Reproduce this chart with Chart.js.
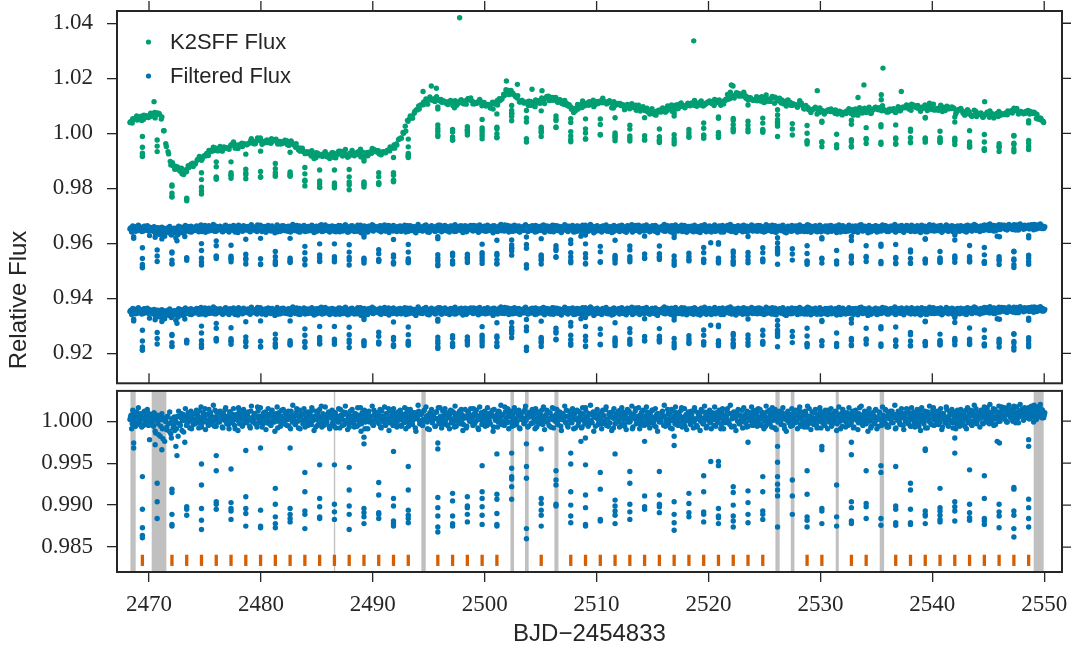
<!DOCTYPE html>
<html><head><meta charset="utf-8">
<script src="https://cdn.jsdelivr.net/npm/chart.js@4.4.1/dist/chart.umd.min.js"></script>
<style>
html,body{margin:0;padding:0;background:#fff;}
#wrap{position:relative;width:1071px;height:652px;overflow:hidden;background:#fff;}
canvas{position:absolute;left:0;}
#c1{top:0;} #c2{top:382px;}
</style></head><body>
<div id="wrap"><canvas id="c2" width="1071" height="270"></canvas><canvas id="c1" width="1071" height="386"></canvas></div>
<script>
// ---------------- DATA ----------------
const xTicks = [2470, 2480, 2490, 2500, 2510, 2520, 2530, 2540, 2550];
const topYTicks = [0.92, 0.94, 0.96, 0.98, 1.00, 1.02, 1.04];
const bottomYTicks = [0.985, 0.990, 0.995, 1.000];

// time of the first sample and the sampling steps (days, BJD-2454833)
const cadenceStart = 2468.3;
const cadenceStartB = 2468.35;
const filtStep = 0.1;
const sffStep = 0.2;

// Filtered flux out of transit, units of 1e-4 relative to 1.0 (samples at 2468.30 + 0.1 i)
const filteredFluxOffset = [
  2,7,-3,9,4,-6,11,1,5,-2,8,3,-5,12,0,6,-1,9,-4,3,
  3,-6,8,-14,1,-3,6,-18,2,-9,4,-24,0,-7,5,-12,-2,-20,3,-5,
  -11,4,-2,-18,6,-5,9,1,-13,5,3,-4,10,0,6,-9,8,2,-3,9,
  4,-2,12,1,-7,6,3,15,-1,8,-5,2,10,-3,5,0,13,-6,7,2,
  -1,9,3,-8,5,14,0,6,-4,11,2,-2,8,4,-9,7,1,16,-3,5,
  6,-4,3,10,-1,7,2,-6,12,0,5,9,-3,4,17,-2,6,1,-7,8,
  3,11,-2,5,0,8,-5,13,2,-1,7,4,-8,10,3,6,-3,14,1,-4,
  9,2,-6,5,12,-1,4,7,-3,15,0,6,-9,3,8,1,-2,11,5,-5,
  2,8,-4,13,1,6,-7,4,10,-2,5,18,0,-5,7,3,-1,9,-6,4,
  7,-3,11,2,-8,6,4,-1,14,3,-5,8,1,10,-2,5,-7,12,0,6,
  -2,9,4,-6,7,1,16,-3,5,2,-9,8,3,11,-1,6,0,-4,13,2,
  5,-1,8,3,-7,12,0,6,-4,9,2,15,-2,4,7,-5,10,1,-3,8,
  1,11,-5,6,3,-2,9,0,14,-6,5,2,-1,10,4,-8,7,3,12,-3,
  8,-4,2,13,0,6,-9,5,10,1,-2,7,4,-6,11,3,-1,16,2,5,
  -3,7,1,10,-5,4,8,-2,12,3,-7,6,0,9,5,-1,14,2,-4,6,
  4,-6,11,2,7,-1,5,15,-3,8,1,-8,6,3,10,-2,4,12,0,-5,
  9,1,-3,6,13,-7,4,2,8,-1,11,5,-4,7,0,17,3,-2,6,10,
  -1,5,8,-5,3,12,0,6,-8,9,2,4,-3,14,1,7,-6,5,11,-2,
  6,3,-9,10,1,-2,7,4,13,-4,5,0,8,-1,11,3,-7,6,2,15,
  0,8,-3,5,11,-6,2,9,4,-1,13,-5,6,1,8,-2,4,10,-8,3,
  12,-1,5,2,-7,9,3,16,0,6,-4,8,1,-2,11,5,-6,7,3,-1,
  4,10,-3,7,0,14,-5,2,8,-2,6,11,-8,3,5,-1,9,1,13,-4,
  7,2,-6,9,4,-1,12,0,5,-9,8,3,15,-2,6,1,-4,10,3,-3,
  1,6,11,-4,3,8,-2,13,0,5,-7,9,2,-1,7,4,12,-5,6,0,
  -2,9,3,-8,14,1,6,-3,10,2,-5,7,4,16,-1,5,-6,8,3,11,
  5,-4,8,1,-1,12,3,-7,6,9,0,4,-3,11,2,-8,7,5,13,-2,
  3,8,-5,2,10,-1,6,4,-9,12,1,7,-2,5,15,0,-4,9,3,6,
  -6,4,11,0,7,-3,5,13,2,-1,8,-7,4,10,1,6,-2,12,-4,3,
  9,-2,5,14,-5,3,8,0,-6,11,4,2,-3,7,16,1,-8,6,10,-1,
  2,7,-4,10,3,-9,6,1,12,-2,5,8,-5,4,0,13,-1,7,3,-6,
  11,1,-3,6,9,-7,4,15,-1,5,2,-4,10,3,-8,7,0,12,5,-2,
  4,-5,8,2,13,-1,6,-6,9,3,0,11,-3,5,7,-9,4,14,1,6,
  -1,10,3,-4,7,1,12,-7,5,2,8,-2,16,0,4,-5,9,3,-3,11,
  6,0,-8,9,4,-2,13,1,5,-6,10,3,-1,7,2,14,-4,6,-7,8,
  3,12,-2,5,-9,8,1,6,-3,11,4,-5,9,0,15,2,-1,7,-6,4,
  8,-3,6,1,10,-6,3,13,-1,7,2,-8,5,11,0,4,-4,9,16,2,
  -4,7,2,12,-1,5,-7,9,3,0,14,-5,6,1,8,-2,11,4,-9,6,
  5,1,10,-3,7,4,-6,13,2,-2,9,6,-4,11,0,5,15,-1,8,3,
  9,4,-2,12,6,1,16,3,-3,10,7,2,-5,14,5,8,0,11,4,17,
  6,13,2,9,-1,15,7,4,11,0,18,5,10,3,-2,12,8,14,6,9,
  4,11,7,16,3,9,13,5,19,8,2,12,6,10,15,4,9,7
];

// Filtered flux out of transit, interleaved samples (at 2468.35 + 0.1 i)
const filteredFluxOffsetB = [
  5,-9,13,0,7,3,-4,16,2,9,-7,4,11,-2,6,14,-5,1,8,-1,
  -4,10,-12,3,7,-16,2,-6,9,-21,4,0,-10,6,-3,11,-15,2,-8,5,
  0,-9,6,12,-3,4,-11,8,1,15,-5,7,3,-8,12,2,-4,9,0,13,
  7,-8,3,17,-2,10,5,-10,8,1,14,-4,6,0,19,-6,4,11,-1,7,
  12,3,-7,9,1,16,-3,5,-9,11,6,0,15,-5,3,8,-11,13,2,9,
  -6,14,1,7,-2,11,4,-8,18,3,-1,9,6,-7,12,0,16,5,-4,10,
  2,-10,8,15,-3,6,11,-1,4,-12,9,17,0,5,-6,13,3,-2,10,7,
  -5,12,4,-9,7,19,1,-4,10,6,-8,13,2,9,-3,15,-7,5,1,11,
  8,-2,16,3,-11,6,12,-5,1,14,4,-7,9,0,17,-3,6,11,-9,5,
  13,0,-6,10,5,-1,15,-8,7,2,11,-4,18,1,-10,8,4,-2,14,3,
  -7,9,2,16,-4,6,-12,10,3,13,-1,7,-9,12,5,0,18,-5,8,2,
  10,4,-3,14,-8,6,1,17,-5,9,3,-11,12,0,7,15,-2,5,-7,11,
  3,13,-6,8,0,16,-9,5,11,-2,14,7,-4,2,10,-12,6,19,1,-3,
  9,-5,12,2,17,-1,7,-10,4,14,0,8,-6,11,3,16,-3,6,-8,12,
  1,15,-4,9,5,-9,13,2,-2,10,18,-6,7,1,12,-3,8,-11,4,14,
  -8,6,11,0,15,3,-5,9,-1,13,6,-10,17,2,-4,8,11,-6,5,16,
  4,-3,10,7,-12,14,1,6,-7,12,3,19,-2,8,-5,11,0,15,-9,6,
  12,-6,3,16,0,-4,9,13,-9,5,2,11,-1,18,4,-7,10,6,-3,14,
  -2,9,15,-7,4,11,-3,7,1,17,-10,6,13,0,-5,10,3,16,-8,5,
  7,14,-4,2,10,-11,8,3,18,-2,6,-7,12,4,-1,15,-9,9,2,13,
  -5,11,6,-8,16,1,-3,12,5,-6,9,19,-1,7,-12,10,4,14,-4,8,
  3,-9,13,6,-2,17,2,-6,10,8,-11,4,15,-3,9,1,12,-7,6,16,
  11,-4,7,-10,14,3,-1,9,18,-7,5,12,-3,0,16,-9,8,2,13,-5,
  6,17,-2,10,-8,4,13,1,-5,15,7,-12,9,3,-1,11,6,19,-6,2,
  14,-3,8,1,-9,12,5,17,-4,6,10,-2,13,-7,3,15,0,-10,9,4,
  -1,12,4,-8,16,2,-5,10,7,-11,14,1,-3,18,6,-6,11,0,8,-9,
  10,2,17,-6,5,-1,13,8,-4,15,-9,6,3,12,-2,9,19,-7,4,11,
  4,-11,9,14,-3,7,1,-8,16,5,-2,12,-6,10,3,17,-5,8,-1,13,
  -6,15,2,-4,11,8,-9,6,18,0,-3,13,7,-7,10,2,14,-10,5,9,
  12,-1,7,16,-5,4,-12,10,3,8,-6,15,1,11,-2,6,-9,13,17,-4,
  5,9,-7,12,0,18,-3,6,-10,11,4,-1,14,-5,8,2,16,-8,9,3,
  -3,13,6,-9,10,2,15,-4,7,-1,12,-11,5,17,0,9,-6,11,4,-7,
  8,-5,16,3,-2,11,-8,6,13,1,-10,9,4,18,-4,7,12,-1,5,-12,
  15,1,-6,10,7,-3,14,-9,4,11,2,-5,17,6,-1,13,-7,8,3,12,
  -2,9,4,19,-8,5,12,0,-4,15,8,-10,6,1,13,-3,10,-6,16,2,
  11,-7,3,14,-1,8,-11,16,5,-3,12,2,-8,9,18,-2,6,13,-5,7,
  1,12,-4,7,15,-10,9,3,-2,17,5,-6,11,0,14,-8,8,2,-3,13,
  9,-6,14,2,-1,11,6,-9,16,4,0,13,-5,8,19,1,-3,10,6,-7,
  13,5,-3,17,8,-1,12,6,20,-2,10,15,3,-4,11,7,18,0,9,14,
  4,16,8,-1,13,19,6,10,2,15,9,-2,17,11,5,20,7,12,1,16,
  10,6,15,3,12,18,8,-1,14,9,17,5,11,20,7,13,4,10
];

// K2SFF systematics trend (green curve level), units of 1e-4 relative to 1.0, one value per 0.2 d
const sffTrendOffset = [
  37,40,46,52,53,54,55,58,62,65,
  67,68,67,66,50,5,-38,-72,-100,-110,
  -120,-128,-134,-136,-137,-135,-128,-124,-117,-110,
  -102,-96,-91,-86,-81,-76,-72,-69,-66,-63,
  -60,-58,-55,-52,-49,-47,-46,-45,-44,-43,
  -42,-41,-40,-39,-38,-37,-35,-34,-33,-33,
  -32,-32,-31,-31,-30,-30,-31,-33,-34,-35,
  -36,-38,-40,-44,-48,-52,-56,-62,-67,-72,
  -76,-79,-81,-82,-83,-84,-84,-84,-84,-83,
  -83,-82,-81,-80,-79,-78,-77,-77,-76,-76,
  -75,-75,-74,-74,-74,-73,-73,-73,-73,-72,
  -72,-71,-70,-68,-66,-64,-62,-60,-52,-36,
  -24,-12,0,17,33,49,59,69,79,87,
  95,102,108,115,122,122,122,122,122,121,
  117,113,110,106,103,100,102,105,108,111,
  114,115,113,112,110,108,106,104,101,99,
  96,95,100,105,110,115,128,142,155,150,
  144,139,134,128,123,117,113,110,107,105,
  103,106,109,112,115,118,121,124,127,128,
  123,117,111,106,101,96,92,88,85,89,
  93,97,101,103,105,106,108,109,111,112,
  113,114,115,112,108,104,100,97,96,95,
  93,92,91,90,89,88,87,86,85,84,
  82,80,78,76,74,73,75,78,80,83,
  85,87,89,91,93,95,97,98,99,100,
  101,102,103,103,103,103,103,103,103,104,
  105,106,107,108,111,116,121,126,130,132,
  134,136,138,136,133,129,127,126,125,124,
  124,123,122,121,121,120,119,118,117,116,
  115,114,112,111,109,108,107,105,104,101,
  98,95,92,89,86,84,81,78,76,74,
  73,73,73,73,73,73,73,73,73,73,
  73,73,74,74,75,76,77,78,79,79,
  80,80,81,81,82,83,83,84,84,85,
  85,85,85,85,86,87,87,88,89,90,
  91,91,91,91,91,91,91,91,91,90,
  89,88,87,86,85,84,83,82,81,80,
  78,76,74,72,70,69,67,65,64,62,
  61,61,61,61,61,61,61,61,61,62,
  64,66,68,70,72,73,73,72,71,70,
  69,68,67,64,58,52,45,40,35
];

// In-transit samples (filtered flux) at each transit time
const dipTimes = [
  2469.41,2470.73,2472.05,2473.37,2474.69,2476.01,2477.33,2478.65,2479.97,2481.29,
  2482.61,2483.93,2485.25,2486.57,2487.89,2489.21,2490.53,2491.85,2493.17,2495.81,
  2497.13,2498.45,2499.77,2501.09,2502.41,2503.73,2505.05,2506.37,2507.69,2509.01,
  2510.33,2511.65,2512.97,2514.29,2515.61,2516.93,2518.25,2519.57,2520.89,2522.21,
  2523.53,2524.85,2526.17,2527.49,2528.81,2530.13,2531.45,2532.77,2534.09,2535.41,
  2536.73,2538.05,2539.37,2540.69,2542.01,2543.33,2544.65,2545.97,2547.29,2548.61
];
const dipFlux = [
  [0.9934,0.9895,0.9873,0.9864,0.9861],
  [0.9926,0.9904,0.9884],
  [0.9919,0.9915,0.9889,0.9877,0.9875],
  [0.9898,0.9895,0.9888],
  [0.9949,0.9924,0.9896,0.9882,0.9871],
  [0.9959,0.9941,0.9904,0.9901,0.9895],
  [0.9943,0.9903,0.9896,0.9893,0.9883],
  [0.9965,0.9910,0.9896,0.9890,0.9875],
  [0.9968,0.9894,0.9875,0.9873],
  [0.9920,0.9901,0.9886,0.9878,0.9873],
  [0.9968,0.9896,0.9889,0.9884,0.9880],
  [0.9939,0.9916,0.9893,0.9889,0.9872],
  [0.9948,0.9908,0.9898,0.9886,0.9884],
  [0.9948,0.9901,0.9892,0.9883],
  [0.9945,0.9918,0.9899,0.9889,0.9871],
  [0.9981,0.9973,0.9896,0.9891,0.9886,0.9878],
  [0.9927,0.9912,0.9891,0.9889,0.9884],
  [0.9964,0.9908,0.9899,0.9881,0.9878,0.9875],
  [0.9946,0.9918,0.9894,0.9888,0.9884,0.9879],
  [0.9974,0.9967,0.9909,0.9897,0.9887,0.9874,0.9868],
  [0.9914,0.9905,0.9887,0.9878,0.9875],
  [0.9910,0.9899,0.9897,0.9889,0.9880],
  [0.9947,0.9916,0.9908,0.9898,0.9888,0.9877],
  [0.9961,0.9913,0.9907,0.9890,0.9877,0.9875],
  [0.9962,0.9944,0.9934,0.9931,0.9922,0.9907],
  [0.9973,0.9946,0.9932,0.9872,0.9860],
  [0.9967,0.9908,0.9902,0.9894,0.9888,0.9875],
  [0.9941,0.9930,0.9924,0.9901,0.9899],
  [0.9962,0.9949,0.9916,0.9900,0.9887,0.9879],
  [0.9948,0.9912,0.9897,0.9877,0.9875],
  [0.9939,0.9919,0.9883,0.9881],
  [0.9961,0.9906,0.9899,0.9893,0.9888,0.9878],
  [0.9940,0.9926,0.9901,0.9892,0.9883],
  [0.9976,0.9911,0.9898,0.9895],
  [0.9940,0.9912,0.9901,0.9898,0.9891],
  [0.9982,0.9971,0.9904,0.9889,0.9879,0.9870],
  [0.9914,0.9902,0.9891,0.9886],
  [0.9935,0.9916,0.9892,0.9889,0.9880],
  [0.9952,0.9947,0.9896,0.9887,0.9885,0.9878],
  [0.9922,0.9915,0.9900,0.9887,0.9881,0.9874],
  [0.9975,0.9917,0.9903,0.9889,0.9879],
  [0.9934,0.9916,0.9893,0.9889,0.9883],
  [0.9970,0.9951,0.9934,0.9925,0.9918,0.9911,0.9874],
  [0.9930,0.9911,0.9889],
  [0.9941,0.9913,0.9886,0.9882,0.9874],
  [0.9970,0.9966,0.9896,0.9893,0.9878],
  [0.9924,0.9886,0.9875],
  [0.9975,0.9960,0.9904,0.9897,0.9881,0.9878],
  [0.9941,0.9902,0.9898,0.9884],
  [0.9947,0.9939,0.9884,0.9876],
  [0.9946,0.9899,0.9895,0.9879,0.9876],
  [0.9926,0.9918,0.9895,0.9879,0.9877],
  [0.9967,0.9965,0.9893,0.9889,0.9887,0.9878],
  [0.9920,0.9897,0.9893,0.9888,0.9883,0.9880],
  [0.9980,0.9962,0.9904,0.9898,0.9893,0.9881],
  [0.9942,0.9901,0.9891,0.9885,0.9882],
  [0.9935,0.9908,0.9884,0.9881,0.9877],
  [0.9901,0.9892,0.9887,0.9873],
  [0.9921,0.9919,0.9893,0.9888,0.9872,0.9862],
  [0.9978,0.9970,0.9907,0.9897,0.9884,0.9874]
];
// green curve level at each transit, units of 1e-4 relative to 1.0
const dipTrendOffset = [
  55,50,-108,-135,-93,-63,-47,-41,-33,-30,
  -37,-64,-82,-82,-77,-74,-71,-52,33,122,
  101,115,104,110,140,110,115,123,91,105,
  114,96,90,81,76,92,101,103,108,133,
  128,122,116,106,88,74,73,73,80,85,
  85,90,91,88,79,68,61,62,72,68
];

// other low points of the filtered flux
const extraTimes = [2468.63, 2468.63, 2470.05, 2470.55, 2471.15, 2472.40, 2472.50, 2473.20, 2508.60, 2509.00, 2520.20, 2545.80, 2546.00];
const extraFlux  = [0.9974, 0.9968, 0.9978, 0.9972, 0.9966, 0.9970, 0.9959, 0.9975, 0.9976, 0.9980, 0.9952, 0.9976, 0.9974];

// isolated high points of the K2SFF flux
const sffSpikeTimes = [2470.45,2494.49,2495.23,2495.68,2497.76,2501.94,2502.92,2504.23,2505.12,2518.68,2522.04,2522.19,2529.72,2533.36,2533.89,2535.44,2535.44,2535.59,2537.23,2544.68];
const sffSpikeFlux  = [1.0115,1.0152,1.0172,1.0164,1.0420,1.0190,1.0178,1.0160,1.0155,1.0336,1.0176,1.0172,1.0155,1.0130,1.0176,1.0140,1.0122,1.0237,1.0152,1.0115];

// offsets of the two filtered-flux copies in the top panel
const topBandOffsets = [0.035, 0.065];

// transit markers (orange) in the lower panel
const transitMarkTimes = [
  2469.41,2472.05,2473.37,2474.69,2476.01,2477.33,2478.65,2479.97,2481.29,2482.61,
  2483.93,2485.25,2486.57,2487.89,2489.21,2490.53,2491.85,2493.17,2495.81,2497.13,
  2498.45,2499.77,2501.09,2505.05,2507.69,2509.01,2510.33,2511.65,2512.97,2514.29,
  2515.61,2516.93,2518.25,2519.57,2520.89,2522.21,2523.53,2524.85,2528.81,2530.13,
  2532.77,2534.09,2536.73,2538.05,2539.37,2540.69,2542.01,2543.33,2544.65,2545.97,
  2547.29,2548.61
];
const transitMarkLevel = 0.98342;

// grey shaded intervals in the lower panel
const shadedStart = [2468.34, 2470.24, 2486.52, 2494.34, 2502.30, 2503.60, 2506.23, 2525.98, 2527.35, 2531.37, 2535.30, 2549.06];
const shadedEnd   = [2468.81, 2471.55, 2486.64, 2494.73, 2502.62, 2503.93, 2506.59, 2526.36, 2527.68, 2531.64, 2535.69, 2549.95];

// ---------------- BUILD ----------------
const INK = '#262626';
const GREEN = '#009e73', BLUE = '#0072b2', ORANGE = '#d55e00';
const SERIF = '"Liberation Serif", "Times New Roman", serif';
const SANS = '"Liberation Sans", Arial, sans-serif';

const filtTimes = filteredFluxOffset.map((_, i) => cadenceStart + i * filtStep);
const filtValues = filteredFluxOffset.map(v => 1 + v / 1e4);
const filtTimesB = filteredFluxOffsetB.map((_, i) => cadenceStartB + i * filtStep);
const filtValuesB = filteredFluxOffsetB.map(v => 1 + v / 1e4);

const bluePoints = [];
filtValues.forEach((y, i) => bluePoints.push({x: filtTimes[i], y}));
filtValuesB.forEach((y, i) => bluePoints.push({x: filtTimesB[i], y}));
dipTimes.forEach((t, k) => dipFlux[k].forEach(f => bluePoints.push({x: t, y: f})));
extraTimes.forEach((t, k) => bluePoints.push({x: t, y: extraFlux[k]}));

const greenPoints = [];
sffTrendOffset.forEach((v, i) => {
  const j = Math.round(i * sffStep / filtStep);
  const level = 1 + v / 1e4;
  if (j < filtValues.length) greenPoints.push({x: filtTimes[j], y: level * filtValues[j]});
  if (j < filtValuesB.length) greenPoints.push({x: filtTimesB[j], y: level * filtValuesB[j]});
});
dipTimes.forEach((t, k) => dipFlux[k].forEach(f => greenPoints.push({x: t, y: f * (1 + dipTrendOffset[k] / 1e4)})));
sffSpikeTimes.forEach((t, k) => greenPoints.push({x: t, y: sffSpikeFlux[k]}));

const topBlueSets = topBandOffsets.map(off => bluePoints.map(p => ({x: p.x, y: p.y - off})));
const markPoints = transitMarkTimes.map(t => ({x: t, y: transitMarkLevel}));

const X_MIN = 2467.14, X_MAX = 2551.59;

function setTicks(vals) { return s => { s.ticks = vals.map(v => ({value: v})); }; }
function fixY(s) { s.width = 117; s.paddingTop = 0; s.paddingBottom = 0; s.paddingLeft = 0; s.paddingRight = 0; }
function fixX(h) { return s => { s.height = h; s.paddingLeft = 0; s.paddingRight = 0; s.paddingTop = 0; s.paddingBottom = 0; }; }

function framePlugin(yTicks, withTop) {
  return {
    id: 'frame',
    afterDraw(chart) {
      const {ctx, chartArea: a, scales} = chart;
      ctx.save();
      ctx.strokeStyle = INK;
      ctx.lineWidth = 1.3;
      ctx.beginPath();
      yTicks.forEach(v => { const y = scales.y.getPixelForValue(v); ctx.moveTo(a.right, y); ctx.lineTo(a.right + 10, y); });
      if (withTop) {
        xTicks.forEach(v => {
          const x = scales.x.getPixelForValue(v);
          ctx.moveTo(x, a.top); ctx.lineTo(x, a.top - 10);
          ctx.moveTo(x, a.bottom); ctx.lineTo(x, a.bottom - 10);
        });
      }
      ctx.stroke();
      ctx.lineWidth = 2;
      ctx.strokeRect(a.left, a.top, a.right - a.left, a.bottom - a.top);
      ctx.restore();
    }
  };
}

const legendPlugin = {
  id: 'legendText',
  afterDraw(chart) {
    const ctx = chart.ctx;
    ctx.save();
    const items = [[GREEN, 'K2SFF Flux', 42], [BLUE, 'Filtered Flux', 76]];
    ctx.font = '22px ' + SANS;
    ctx.textAlign = 'left';
    ctx.textBaseline = 'middle';
    items.forEach(([c, t, y]) => {
      ctx.fillStyle = c;
      ctx.beginPath(); ctx.arc(148.5, y, 2.6, 0, Math.PI * 2); ctx.fill();
      ctx.fillStyle = INK;
      ctx.fillText(t, 170, y + 1);
    });
    ctx.translate(19, 300);
    ctx.rotate(-Math.PI / 2);
    ctx.textAlign = 'center';
    ctx.font = '24px ' + SANS;
    ctx.fillText('Relative Flux', 0, 0);
    ctx.restore();
  }
};

const shadePlugin = {
  id: 'shade',
  beforeDatasetsDraw(chart) {
    const {ctx, chartArea: a, scales} = chart;
    ctx.save();
    ctx.fillStyle = '#c0c0c0';
    shadedStart.forEach((s, k) => {
      const x0 = scales.x.getPixelForValue(s), x1 = scales.x.getPixelForValue(shadedEnd[k]);
      ctx.fillRect(x0, a.top, Math.max(1.2, x1 - x0), a.bottom - a.top);
    });
    ctx.restore();
  }
};

const yTickFont = {family: SERIF, size: 23};
const pointDS = (data, color) => ({data, backgroundColor: color, borderWidth: 0, pointRadius: 2.7, pointHoverRadius: 2.7});

new Chart(document.getElementById('c1'), {
  type: 'scatter',
  data: {datasets: [pointDS(greenPoints, GREEN), pointDS(topBlueSets[0], BLUE), pointDS(topBlueSets[1], BLUE)]},
  options: {
    responsive: false, animation: false, devicePixelRatio: 1,
    layout: {padding: {top: 11, right: 9, bottom: 2, left: 0}},
    plugins: {legend: {display: false}, tooltip: {enabled: false}},
    events: [],
    scales: {
      x: {type: 'linear', min: X_MIN, max: X_MAX, display: false},
      y: {
        type: 'linear', min: 0.90911, max: 1.04446,
        afterBuildTicks: setTicks(topYTicks),
        afterFit: fixY,
        border: {display: false},
        grid: {drawOnChartArea: false, drawTicks: true, tickLength: 10, color: INK, lineWidth: 1.3},
        ticks: {font: yTickFont, color: INK, padding: 14, callback: v => v.toFixed(2)}
      }
    }
  },
  plugins: [framePlugin(topYTicks, true), legendPlugin]
});

new Chart(document.getElementById('c2'), {
  type: 'scatter',
  data: {datasets: [
    pointDS(bluePoints, BLUE),
    {data: markPoints, pointStyle: 'line', rotation: 90, pointRadius: 5.6, pointHoverRadius: 5.6, borderWidth: 3.3, borderColor: ORANGE, backgroundColor: ORANGE}
  ]},
  options: {
    responsive: false, animation: false, devicePixelRatio: 1,
    layout: {padding: {top: 2, right: 9, bottom: 0, left: 0}},
    plugins: {legend: {display: false}, tooltip: {enabled: false}},
    events: [],
    scales: {
      x: {
        type: 'linear', min: X_MIN, max: X_MAX,
        afterBuildTicks: setTicks(xTicks),
        afterFit: fixX(80),
        border: {display: false},
        grid: {drawOnChartArea: false, drawTicks: true, tickLength: 10, color: INK, lineWidth: 1.3},
        ticks: {font: {family: SERIF, size: 23}, color: INK, padding: 9, maxRotation: 0, autoSkip: false, callback: v => String(v)},
        title: {display: true, text: 'BJD\u22122454833', font: {family: SANS, size: 24}, color: INK, padding: {top: 0, bottom: 3}}
      },
      y: {
        type: 'linear', min: 0.98203, max: 1.00361,
        afterBuildTicks: setTicks(bottomYTicks),
        afterFit: fixY,
        border: {display: false},
        grid: {drawOnChartArea: false, drawTicks: true, tickLength: 10, color: INK, lineWidth: 1.3},
        ticks: {font: yTickFont, color: INK, padding: 14, callback: v => v.toFixed(3)}
      }
    }
  },
  plugins: [shadePlugin, framePlugin(bottomYTicks, false)]
});
</script></body></html>
